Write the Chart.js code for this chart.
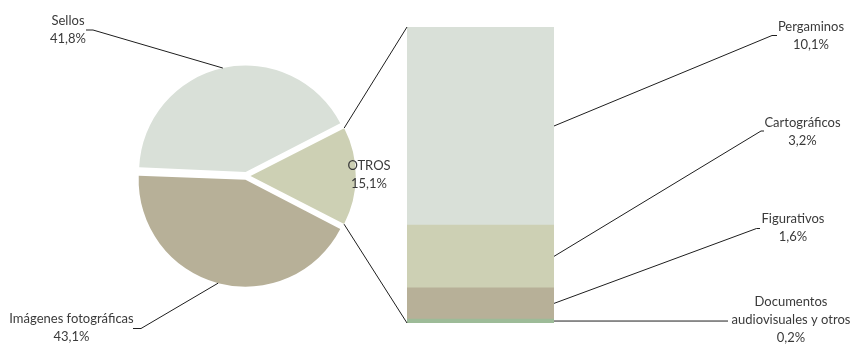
<!DOCTYPE html>
<html lang="es">
<head>
<meta charset="utf-8">
<title>Fondos por tipo de documento</title>
<script src="https://cdn.jsdelivr.net/npm/chart.js@4.4.1/dist/chart.umd.min.js"></script>
<style>
  html, body { margin: 0; padding: 0; background: #fff; }
  #wrap { position: relative; width: 851px; height: 344px; }
  #wrap canvas { position: absolute; left: 0; top: 0; }
</style>
</head>
<body>
<div id="wrap">
  <canvas id="pieChart" width="851" height="344"></canvas>
  <canvas id="barChart" width="851" height="344"></canvas>
</div>
<script>
// Main split (pie) and breakdown of the OTROS slice (stacked bar)
const pieLabels = ['Sellos', 'OTROS', 'Imágenes fotográficas'];
const pieValues = [41.8, 15.1, 43.1];
const pieColors = ['#d9e0d8', '#cdd0b4', '#b7b098'];

// bottom to top
const otrosLabels = ['Documentos\naudiovisuales y otros', 'Figurativos', 'Cartográficos', 'Pergaminos'];
const otrosValues = [0.2, 1.6, 3.2, 10.1];
const otrosColors = ['#9dbb98', '#b7b098', '#cdd0b4', '#d9e0d8'];

const FONT = '13px Lato, "Open Sans", sans-serif';
const TEXT_COLOR = '#3a3a3a';
const LINE_COLOR = '#1e1e1e';
const LINE_H = 18;

// where the callout text sits and where its leader line bends
const pieCallouts = [
  { cx: 68, y: 25, elbow: [[86, 30], [93, 30]] },
  { cx: 369, y: 170, elbow: null },
  { cx: 71.5, y: 323, elbow: [[133, 328.5], [141, 328.5]] }
];
const barCallouts = [
  { cx: 791, y: 306, lineTo: 728 },
  { cx: 793, y: 222.5, elbow: [[760, 228.5], [756.5, 228.5]] },
  { cx: 802.5, y: 126.5, elbow: [[764, 131], [761, 131]] },
  { cx: 811, y: 31, elbow: [[777, 35.5], [772, 35.5]] }
];

function pct(v) {
  return v.toFixed(1).replace('.', ',') + '%';
}

function drawText(ctx, lines, cx, y) {
  ctx.save();
  ctx.font = FONT;
  ctx.fillStyle = TEXT_COLOR;
  ctx.textAlign = 'center';
  ctx.textBaseline = 'alphabetic';
  lines.forEach((t, i) => ctx.fillText(t, cx, y + i * LINE_H));
  ctx.restore();
}

function polyline(ctx, pts) {
  ctx.save();
  ctx.strokeStyle = LINE_COLOR;
  ctx.lineWidth = 1;
  ctx.beginPath();
  pts.forEach((p, i) => i ? ctx.lineTo(p[0], p[1]) : ctx.moveTo(p[0], p[1]));
  ctx.stroke();
  ctx.restore();
}

// point on the outer rim of an (offset) arc at a given angle
function arcPoint(arc, angle) {
  const off = (arc.options.offset || 0) / 4;
  const mid = (arc.startAngle + arc.endAngle) / 2;
  const circ = arc.endAngle - arc.startAngle;
  const r = arc.outerRadius + off * (1 - Math.sin(Math.min(Math.PI, circ)));
  return [
    arc.x + Math.cos(mid) * off + Math.cos(angle) * r,
    arc.y + Math.sin(mid) * off + Math.sin(angle) * r
  ];
}

const pieChart = new Chart(document.getElementById('pieChart'), {
  type: 'pie',
  data: {
    labels: pieLabels,
    datasets: [{
      data: pieValues,
      backgroundColor: pieColors,
      borderWidth: 0,
      offset: 16
    }]
  },
  options: {
    responsive: false,
    animation: false,
    rotation: 272.4,
    radius: 104.5,
    layout: { padding: { left: 130, right: 488, top: 60, bottom: 52 } },
    plugins: { legend: { display: false }, tooltip: { enabled: false } }
  }
});

const calloutPlugin = {
  id: 'callouts',
  afterDraw(chart) {
    const ctx = chart.ctx;
    const arcs = pieChart.getDatasetMeta(0).data;
    const bars = otrosValues.map((_, i) => chart.getDatasetMeta(i).data[0]);
    const area = chart.chartArea;

    // pie labels and leaders
    arcs.forEach((arc, i) => {
      const c = pieCallouts[i];
      if (c.elbow) {
        const mid = (arc.startAngle + arc.endAngle) / 2;
        polyline(ctx, [c.elbow[0], c.elbow[1], arcPoint(arc, mid)]);
      }
      drawText(ctx, [pieLabels[i], pct(pieValues[i])], c.cx, c.y);
    });

    // OTROS slice fanning out to the bar
    const otros = arcs[1];
    const top = Math.min(...bars.map(b => b.y));
    const bottom = Math.max(...bars.map(b => b.base));
    polyline(ctx, [arcPoint(otros, otros.startAngle), [area.left, top]]);
    polyline(ctx, [arcPoint(otros, otros.endAngle), [area.left, bottom]]);

    // bar segment labels and leaders
    bars.forEach((bar, i) => {
      const c = barCallouts[i];
      const ax = bar.x + bar.width / 2;
      const ay = (bar.y + bar.base) / 2;
      if (c.elbow) {
        polyline(ctx, [[ax, ay], c.elbow[1], c.elbow[0]]);
      } else {
        polyline(ctx, [[ax, ay], [c.lineTo, ay]]);
      }
      drawText(ctx, otrosLabels[i].split('\n').concat(pct(otrosValues[i])), c.cx, c.y);
    });
  }
};

const otrosTotal = otrosValues.reduce((a, b) => a + b, 0);

new Chart(document.getElementById('barChart'), {
  type: 'bar',
  data: {
    labels: ['OTROS'],
    datasets: otrosValues.map((v, i) => ({
      label: otrosLabels[i],
      data: [v],
      backgroundColor: otrosColors[i],
      borderWidth: 0,
      barPercentage: 1,
      categoryPercentage: 1
    }))
  },
  options: {
    responsive: false,
    animation: false,
    layout: { padding: { left: 407, right: 297, top: 27, bottom: 21 } },
    scales: {
      x: { display: false, stacked: true },
      y: { display: false, stacked: true, min: 0, max: otrosTotal }
    },
    plugins: { legend: { display: false }, tooltip: { enabled: false } }
  },
  plugins: [calloutPlugin]
});
</script>
</body>
</html>
